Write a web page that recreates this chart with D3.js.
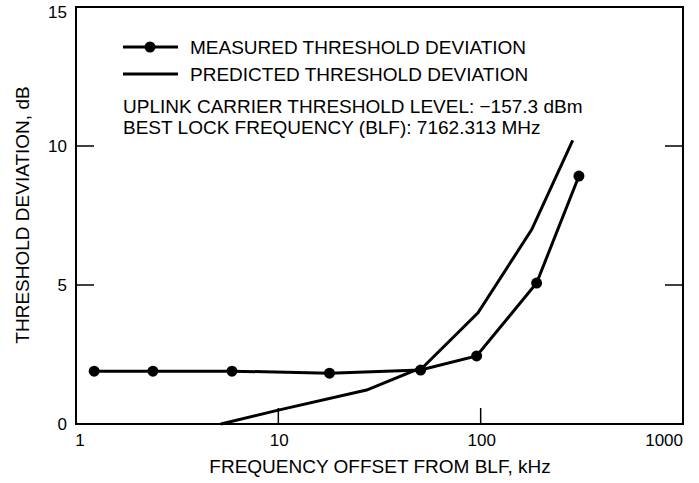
<!DOCTYPE html>
<meta charset="utf-8">
<script src="https://d3js.org/d3.v7.min.js"></script>
<style>
  body { margin: 0; background: #fff; }
  text { font-family: "Liberation Sans", Arial, Helvetica, sans-serif; fill: #000; }
</style>
<div id="d3chart"></div>
<script>
    // data
    var measuredFreq = [1.23, 2.4, 5.9, 17.9, 50.5, 95.5, 189, 306];
    var measuredDev  = [1.9, 1.9, 1.9, 1.83, 1.94, 2.45, 5.07, 8.92];
    var predictedFreq = [5.2, 10, 27.3, 52, 97, 179, 285];
    var predictedDev  = [0, 0.5, 1.22, 2.05, 4.0, 7.0, 10.2];
    var xTicks = [1, 10, 100, 1000];
    var yTicks = [0, 5, 10, 15];
    var legendLabels = ["MEASURED THRESHOLD DEVIATION", "PREDICTED THRESHOLD DEVIATION"];
    var notes = ["UPLINK CARRIER THRESHOLD LEVEL: \u2212157.3 dBm",
                 "BEST LOCK FREQUENCY (BLF): 7162.313 MHz"];

    var margin = {top: 7, right: 16, bottom: 59, left: 76},
        width = 699 - margin.left - margin.right,
        height = 483 - margin.top - margin.bottom;

    var svg = d3.select("#d3chart")
        .append("svg")
        .attr("width", 699)
        .attr("height", 483)
        .append("g")
        .attr("transform", "translate(" + margin.left + "," + margin.top + ")");

    var x = d3.scaleLog().domain([1, 1000]).range([0, width]);
    var y = d3.scaleLinear().domain([0, 15]).range([height, 0]);

    // frame
    svg.append("rect")
        .attr("width", width).attr("height", height)
        .attr("fill", "none").attr("stroke", "#000").attr("stroke-width", 2);

    // inner ticks (left, right, bottom)
    var inner = yTicks.filter(function(d) { return d > 0 && d < 15; });
    svg.append("g").selectAll("line.yl").data(inner).enter().append("line")
        .attr("x1", 0).attr("x2", 18)
        .attr("y1", function(d) { return y(d); }).attr("y2", function(d) { return y(d); })
        .attr("stroke", "#000").attr("stroke-width", 1.5);
    svg.append("g").selectAll("line.yr").data(inner).enter().append("line")
        .attr("x1", width - 18).attr("x2", width)
        .attr("y1", function(d) { return y(d); }).attr("y2", function(d) { return y(d); })
        .attr("stroke", "#000").attr("stroke-width", 1.5);
    svg.append("g").selectAll("line.xb").data(xTicks.slice(1, 3)).enter().append("line")
        .attr("x1", function(d) { return x(d); }).attr("x2", function(d) { return x(d); })
        .attr("y1", height - 16).attr("y2", height)
        .attr("stroke", "#000").attr("stroke-width", 1.5);

    // tick labels
    svg.append("g").selectAll("text").data(yTicks).enter().append("text")
        .attr("x", -9)
        .attr("y", function(d) { return d === 15 ? y(d) + 5 : y(d); })
        .attr("dy", "0.35em")
        .attr("text-anchor", "end")
        .style("font-size", "17px")
        .text(function(d) { return d; });
    svg.append("g").selectAll("text").data(xTicks).enter().append("text")
        .attr("x", function(d, i) { return i === 0 ? x(d) + 4 : (i === 3 ? x(d) : x(d) + 1); })
        .attr("y", height + 22)
        .attr("text-anchor", function(d, i) { return i === 3 ? "end" : "middle"; })
        .style("font-size", "17px")
        .text(function(d) { return d; });

    // axis titles
    svg.append("text")
        .attr("text-anchor", "middle")
        .attr("x", 304)
        .attr("y", height + 49)
        .style("font-size", "19px")
        .text("FREQUENCY OFFSET FROM BLF, kHz");
    svg.append("text")
        .attr("text-anchor", "middle")
        .attr("transform", "rotate(-90)")
        .attr("x", -208)
        .attr("y", -47)
        .style("font-size", "19px")
        .text("THRESHOLD DEVIATION, dB");

    var line = d3.line()
        .x(function(d) { return x(d[0]); })
        .y(function(d) { return y(d[1]); });

    var predicted = d3.zip(predictedFreq, predictedDev);
    var measured = d3.zip(measuredFreq, measuredDev);

    svg.append("path").datum(predicted)
        .attr("d", line).attr("fill", "none")
        .attr("stroke", "#000").attr("stroke-width", 3);
    svg.append("path").datum(measured)
        .attr("d", line).attr("fill", "none")
        .attr("stroke", "#000").attr("stroke-width", 3);
    svg.append("g").selectAll("circle").data(measured).enter().append("circle")
        .attr("cx", function(d) { return x(d[0]); })
        .attr("cy", function(d) { return y(d[1]); })
        .attr("r", 5.5).attr("fill", "#000");

    // legend
    var lg = svg.append("g").attr("transform", "translate(47,0)");
    legendLabels.forEach(function(label, i) {
        var ly = 40 + i * 27;
        lg.append("line").attr("x1", 0).attr("x2", 55)
            .attr("y1", ly).attr("y2", ly)
            .attr("stroke", "#000").attr("stroke-width", 3);
        if (i === 0) lg.append("circle").attr("cx", 27).attr("cy", ly).attr("r", 5.5).attr("fill", "#000");
        lg.append("text").attr("x", 67).attr("y", ly + 7)
            .style("font-size", "19px").text(label);
    });
    notes.forEach(function(note, i) {
        lg.append("text").attr("x", 0).attr("y", 106 + i * 21)
            .style("font-size", "19px").text(note);
    });
</script>
